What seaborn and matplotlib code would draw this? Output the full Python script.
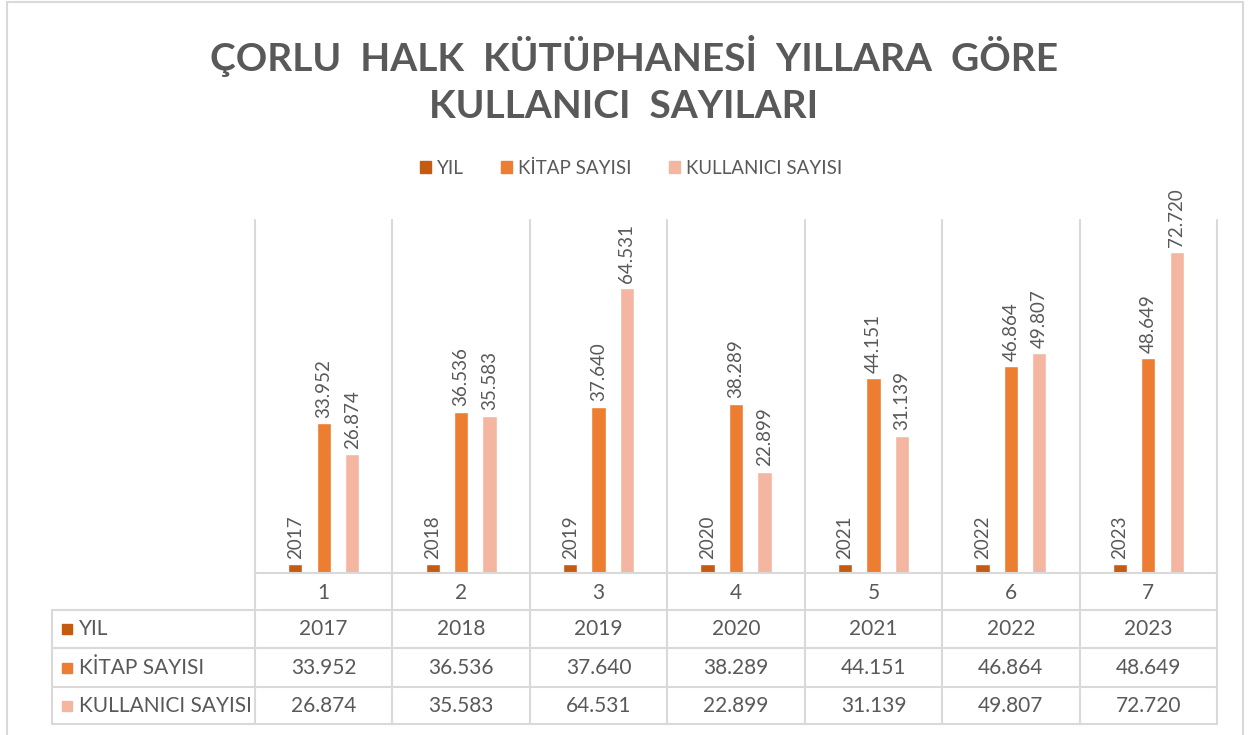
import numpy as np
import pandas as pd
import seaborn as sns
import matplotlib
matplotlib.use("Agg")
import matplotlib.pyplot as plt
from matplotlib.lines import Line2D
from matplotlib.patches import Rectangle
from matplotlib.transforms import blended_transform_factory

# ---------------- data ----------------
categories = ["1", "2", "3", "4", "5", "6", "7"]
series_names = ["YIL", "KİTAP SAYISI", "KULLANICI SAYISI"]
yil = [2017, 2018, 2019, 2020, 2021, 2022, 2023]
kitap = [33952, 36536, 37640, 38289, 44151, 46864, 48649]
kullanici = [26874, 35583, 64531, 22899, 31139, 49807, 72720]
title_lines = ["ÇORLU  HALK  KÜTÜPHANESİ  YILLARA  GÖRE", "KULLANICI  SAYILARI"]

colors = ["#C55A11", "#ED7D31", "#F4B6A0"]
grid_c = "#D9D9D9"
text_c = "#595959"
FONT = "Lato"

def fmt(v, is_year=False):
    return str(v) if is_year else f"{v:,}".replace(",", ".")

series_values = [yil, kitap, kullanici]
df = pd.DataFrame({
    "cat": categories * 3,
    "series": [s for s in series_names for _ in categories],
    "value": yil + kitap + kullanici,
})

sns.set_theme(style="white")
plt.rcParams["font.family"] = [FONT, "DejaVu Sans"]

W, H = 1248, 735
fig = plt.figure(figsize=(W / 100, H / 100), dpi=100)
fig.patch.set_facecolor("white")

def fx(px):
    return px / W

def fy(py):
    return (H - py) / H

ax_left, ax_right, ax_top, ax_bot = 255, 1217, 220, 573
ax = fig.add_axes([fx(ax_left), fy(ax_bot), fx(ax_right - ax_left), (ax_bot - ax_top) / H])

sns.barplot(data=df, x="cat", y="value", hue="series", hue_order=series_names,
            order=categories, palette=colors, width=0.62, gap=0.5, ax=ax,
            legend=False, saturation=1)

ax.set_ylim(0, 80000)
ax.set_xlim(-0.5, 6.5)
ax.set_xlabel("")
ax.set_ylabel("")
ax.set_yticks([])
for s in ["top", "left", "right"]:
    ax.spines[s].set_visible(False)
ax.spines["bottom"].set_color(grid_c)
ax.spines["bottom"].set_linewidth(1.5)
ax.tick_params(axis="x", length=0, pad=7, labelsize=15, labelcolor=text_c)

# data labels
for i, cont in enumerate(ax.containers):
    labels = [fmt(v, is_year=(i == 0)) for v in series_values[i]]
    ax.bar_label(cont, labels=labels, rotation=90, padding=4, fontsize=13.5,
                 color=text_c)

# table / grid lines
tr = blended_transform_factory(ax.transData, fig.transFigure)
for b in np.arange(-0.5, 7.0, 1.0):
    fig.add_artist(Line2D([b, b], [fy(ax_top), fy(724)], transform=tr,
                          color=grid_c, lw=1.5, clip_on=False))
row_lines = [610, 648, 687, 724]
for yl in row_lines:
    fig.add_artist(Line2D([fx(52), fx(ax_right)], [fy(yl), fy(yl)],
                          transform=fig.transFigure, color=grid_c, lw=1.5))
fig.add_artist(Line2D([fx(52), fx(52)], [fy(610), fy(724)],
                      transform=fig.transFigure, color=grid_c, lw=1.5))

row_centers = [629, 667.5, 705.5]
for r, (name, vals) in enumerate(zip(series_names, series_values)):
    yc = row_centers[r]
    fig.add_artist(Rectangle((fx(62), fy(yc + 5)), fx(10), 10 / H,
                             transform=fig.transFigure, color=colors[r]))
    fig.text(fx(79), fy(yc), name, ha="left", va="center", fontsize=15,
             color=text_c)
    for j, v in enumerate(vals):
        fig.text(j, fy(yc), fmt(v, is_year=(r == 0)), transform=tr,
                 ha="center", va="center", fontsize=15, color=text_c)

# legend
handles = [Rectangle((0, 0), 1, 1, color=c) for c in colors]
fig.legend(handles, series_names, loc="center", ncol=3,
           bbox_to_anchor=(fx(631), fy(168)), frameon=False,
           handlelength=0.6, handleheight=0.6, handletextpad=0.3,
           columnspacing=2.0, prop={"size": 13.5},
           labelcolor=text_c)

# title
fig.text(fx(634), fy(56), title_lines[0], ha="center", va="center",
         fontsize=28, fontweight="bold", color=text_c)
fig.text(fx(624), fy(106), title_lines[1], ha="center", va="center",
         fontsize=28, fontweight="bold", color=text_c)

# chart border
fig.add_artist(Rectangle((fx(7), -0.02), fx(1243 - 7), fy(2) + 0.02,
                         transform=fig.transFigure, fill=False,
                         edgecolor=grid_c, lw=1.5))

fig.savefig("out.png", dpi=100, facecolor="white")
